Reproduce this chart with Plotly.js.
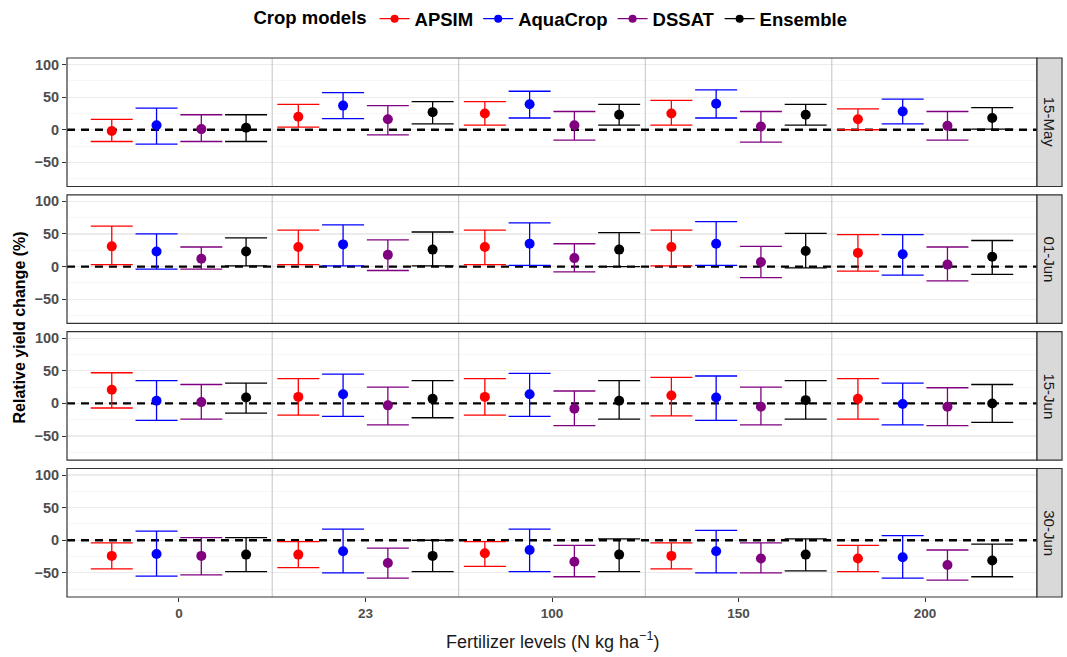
<!DOCTYPE html>
<html>
<head>
<meta charset="utf-8">
<script src="https://cdn.plot.ly/plotly-3.0.1.min.js"></script>
<style>html,body{margin:0;padding:0;background:#fff;}#chart{width:1067px;height:657px;}</style>
</head>
<body>
<div id="chart"></div>
<script>
// ---- Data ----
const sowingDates = ['15-May', '01-Jun', '15-Jun', '30-Jun'];
const fertLevels = ['0', '23', '100', '150', '200'];
const cropModels = ['APSIM', 'AquaCrop', 'DSSAT', 'Ensemble'];
const modelColors = ['#FF0000', '#0000FF', '#800080', '#000000'];

// rows = sowing dates (15-May, 01-Jun, 15-Jun, 30-Jun); columns = fertilizer levels
const apsimMean  = [[-2, 20, 25, 25, 16], [31, 30, 30, 30, 21], [21, 10, 10, 12, 7], [-24, -22, -20, -24, -28]];
const apsimUpper = [[16, 39, 43, 45, 32], [62, 56, 56, 56, 49], [47, 38, 38, 40, 38], [-4, -2, -2, -4, -8]];
const apsimLower = [[-18, 4, 7, 7, 0], [3, 3, 3, 1, -7], [-7, -18, -18, -19, -24], [-44, -42, -40, -44, -48]];

const aquaMean  = [[7, 37, 39, 40, 28], [23, 34, 35, 35, 19], [4, 14, 14, 9, -1], [-21, -17, -15, -17, -26]];
const aquaUpper = [[33, 57, 59, 61, 47], [50, 64, 67, 69, 49], [35, 45, 46, 42, 31], [14, 17, 17, 15, 7]];
const aquaLower = [[-22, 17, 18, 18, 9], [-4, 1, 2, 2, -13], [-26, -20, -20, -26, -33], [-55, -50, -48, -50, -58]];

const dssatMean  = [[1, 16, 7, 5, 6], [12, 18, 13, 7, 3], [2, -3, -8, -5, -5], [-24, -35, -33, -28, -38]];
const dssatUpper = [[23, 37, 28, 28, 28], [30, 41, 35, 31, 30], [29, 25, 19, 25, 24], [4, -12, -8, -4, -15]];
const dssatLower = [[-18, -8, -16, -19, -16], [-4, -6, -8, -17, -22], [-24, -33, -34, -33, -34], [-53, -58, -56, -50, -61]];

const ensMean  = [[3, 27, 23, 23, 18], [23, 26, 26, 24, 15], [9, 7, 4, 5, 0], [-22, -24, -22, -22, -31]];
const ensUpper = [[23, 43, 39, 39, 34], [44, 53, 52, 51, 40], [31, 35, 35, 35, 29], [4, 0, 2, 2, -6]];
const ensLower = [[-18, 9, 7, 7, 1], [1, 1, 0, -2, -12], [-15, -22, -24, -24, -29], [-48, -48, -48, -47, -56]];

const meanSets  = [apsimMean, aquaMean, dssatMean, ensMean];
const upperSets = [apsimUpper, aquaUpper, dssatUpper, ensUpper];
const lowerSets = [apsimLower, aquaLower, dssatLower, ensLower];

// ---- Build figure ----
const FONT = 'Liberation Sans, Arial, sans-serif';
const X_RANGE = [-0.6, 4.6];
const Y_RANGE = [-87, 110];
const panelH = 0.2384, panelGap = 0.01546;
const traces = [];
const shapes = [];
const annotations = [];
const layout = {
  width: 1067, height: 657,
  margin: {l: 67, r: 30, t: 58, b: 60, autoexpand: false},
  paper_bgcolor: '#ffffff', plot_bgcolor: '#ffffff',
  font: {family: FONT, color: '#000'},
  scattermode: 'group', scattergap: 0.04,
  showlegend: true,
  legend: {
    orientation: 'h', x: 0.5, xanchor: 'center', y: 1.072, yanchor: 'middle',
    font: {size: 18.5, family: FONT, color: '#000', weight: 'bold'},
    title: {text: 'Crop models', side: 'left', font: {size: 18.5, family: FONT, color: '#000', weight: 'bold'}},
    itemwidth: 30, tracegroupgap: 0
  }
};

sowingDates.forEach((date, p) => {
  const n = p === 0 ? '' : String(p + 1);
  const xa = 'x' + n, ya = 'y' + n;
  const top = 1 - p * (panelH + panelGap);
  const dom = [Math.max(0, top - panelH), top];
  const isBottom = p === sowingDates.length - 1;

  layout['xaxis' + n] = {
    domain: [0, 1], anchor: ya, type: 'category', categoryorder: 'array', categoryarray: fertLevels,
    range: X_RANGE, showgrid: false, zeroline: false, showline: false,
    showticklabels: isBottom, ticks: isBottom ? 'outside' : '', ticklen: 4, tickwidth: 1, tickcolor: '#333333',
    tickfont: {size: 13.5, color: '#4D4D4D', family: FONT, weight: 'bold'},
    fixedrange: true
  };
  if (p > 0) layout['xaxis' + n].matches = 'x';
  layout['yaxis' + n] = {
    domain: dom, anchor: xa, range: Y_RANGE, tick0: 0, dtick: 50,
    showgrid: true, gridcolor: '#EBEBEB', gridwidth: 1.1, zeroline: false, showline: false,
    minor: {tick0: 0, dtick: 25, showgrid: true, gridcolor: '#F3F3F3', gridwidth: 0.7, ticks: ''},
    ticks: 'outside', ticklen: 4, tickwidth: 1, tickcolor: '#333333',
    tickfont: {size: 14.5, color: '#4D4D4D', family: FONT, weight: 'bold'},
    fixedrange: true
  };

  // separators between fertilizer levels
  for (let k = 0; k < fertLevels.length - 1; k++) {
    shapes.push({type: 'line', xref: xa, yref: ya, x0: k + 0.5, x1: k + 0.5, y0: Y_RANGE[0], y1: Y_RANGE[1],
      line: {color: '#C4C4C4', width: 1}, layer: 'between'});
  }
  // zero reference line
  shapes.push({type: 'line', xref: xa, yref: ya, x0: X_RANGE[0], x1: X_RANGE[1], y0: 0, y1: 0,
    line: {color: '#000000', width: 2.4, dash: '8px,6px'}, layer: 'between'});
  // panel border
  shapes.push({type: 'rect', xref: 'paper', yref: 'paper', x0: 0, x1: 1, y0: dom[0], y1: dom[1],
    line: {color: '#333333', width: 1.2}, fillcolor: 'rgba(0,0,0,0)', layer: 'above'});
  // facet strip
  shapes.push({type: 'rect', xref: 'paper', yref: 'paper', x0: 1.0, x1: 1.0258, y0: dom[0], y1: dom[1],
    line: {color: '#333333', width: 1.2}, fillcolor: '#D9D9D9', layer: 'above'});
  annotations.push({xref: 'paper', yref: 'paper', x: 1.0129, y: (dom[0] + dom[1]) / 2, text: date,
    textangle: 90, showarrow: false, xanchor: 'center', yanchor: 'middle',
    font: {size: 15, color: '#1A1A1A', family: FONT}});

  cropModels.forEach((m, j) => {
    const mean = meanSets[j][p], up = upperSets[j][p], lo = lowerSets[j][p];
    traces.push({
      type: 'scatter', mode: 'markers', name: m, showlegend: false,
      x: fertLevels, y: mean, xaxis: xa, yaxis: ya, offsetgroup: m,
      marker: {color: modelColors[j], size: 10},
      error_y: {type: 'data', symmetric: false,
        array: up.map((v, i) => v - mean[i]), arrayminus: lo.map((v, i) => mean[i] - v),
        color: modelColors[j], thickness: 1.3, width: 21},
      hoverinfo: 'skip'
    });
  });
});

// legend entries (line + point glyph, like the reference)
cropModels.forEach((m, j) => {
  traces.push({type: 'scatter', mode: 'lines+markers', name: m, x: [null], y: [null],
    xaxis: 'x', yaxis: 'y', offsetgroup: m, showlegend: true,
    line: {color: modelColors[j], width: 1.3}, marker: {color: modelColors[j], size: 8}});
});

annotations.push({xref: 'paper', yref: 'paper', x: -0.0485, y: 0.5, text: 'Relative yield change (%)',
  textangle: -90, showarrow: false, xanchor: 'center', yanchor: 'middle',
  font: {size: 16, color: '#000', family: FONT, weight: 'bold'}});
annotations.push({xref: 'paper', yref: 'paper', x: 0.5, y: -0.08, text: 'Fertilizer levels (N kg ha<sup>\u22121</sup>)',
  showarrow: false, xanchor: 'center', yanchor: 'middle',
  font: {size: 18, color: '#1A1A1A', family: FONT}});

layout.shapes = shapes;
layout.annotations = annotations;

Plotly.newPlot('chart', traces, layout, {displayModeBar: false, staticPlot: true});
</script>
</body>
</html>
